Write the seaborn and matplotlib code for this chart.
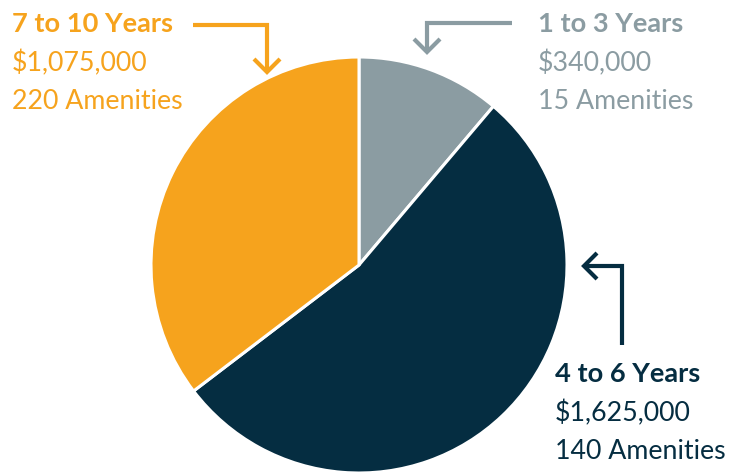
import matplotlib
matplotlib.use("Agg")
import matplotlib.pyplot as plt
import seaborn as sns

# data
labels = ['1 to 3 Years', '4 to 6 Years', '7 to 10 Years']
amounts = [340000, 1625000, 1075000]
amenities = [15, 140, 220]
colors = ['#8b9ca2', '#052d41', '#f6a31d']

sns.set_theme(style='white')
plt.rcParams['font.family'] = ['Lato', 'DejaVu Sans']

W, H = 748, 474
fig = plt.figure(figsize=(W / 100, H / 100), dpi=100)
ax = fig.add_axes([0, 0, 1, 1])


def Y(y):
    # image pixel row -> axes y (upwards)
    return H - y


wedges, _ = ax.pie(amounts, colors=colors, startangle=90, counterclock=False,
                   center=(359, Y(265)), radius=208,
                   wedgeprops=dict(edgecolor='white', linewidth=2.2))
ax.set_xlim(0, W)
ax.set_ylim(0, H)
ax.set_aspect('equal')
ax.axis('off')


def label(x, y_base, i):
    c = colors[i]
    ax.text(x, Y(y_base), labels[i], color=c, fontsize=19.6, fontweight='bold',
            ha='left', va='baseline')
    ax.text(x, Y(y_base + 39), '${:,}'.format(amounts[i]), color=c, fontsize=19.3,
            ha='left', va='baseline')
    ax.text(x, Y(y_base + 77), '{} Amenities'.format(amenities[i]), color=c,
            fontsize=19.3, ha='left', va='baseline')


def elbow(pts, c, head):
    xs = [p[0] for p in pts]
    ys = [Y(p[1]) for p in pts]
    ax.plot(xs, ys, color=c, lw=3, solid_capstyle='butt', solid_joinstyle='miter')
    tx, ty = pts[-1]
    if head == 'down':
        hx, hy = [tx - 13, tx, tx + 13], [ty - 13, ty, ty - 13]
    else:
        hx, hy = [tx + 13, tx, tx + 13], [ty - 13, ty, ty + 13]
    ax.plot(hx, [Y(v) for v in hy], color=c, lw=3, solid_capstyle='butt',
            solid_joinstyle='miter')


label(12, 32, 2)
label(538, 32, 0)
label(555, 382, 1)

elbow([(193, 25), (267, 25), (267, 72)], colors[2], 'down')
elbow([(512, 23), (427, 23), (427, 52)], colors[0], 'down')
elbow([(622, 345), (622, 266), (584, 266)], colors[1], 'left')

fig.savefig('out.png', dpi=100)
